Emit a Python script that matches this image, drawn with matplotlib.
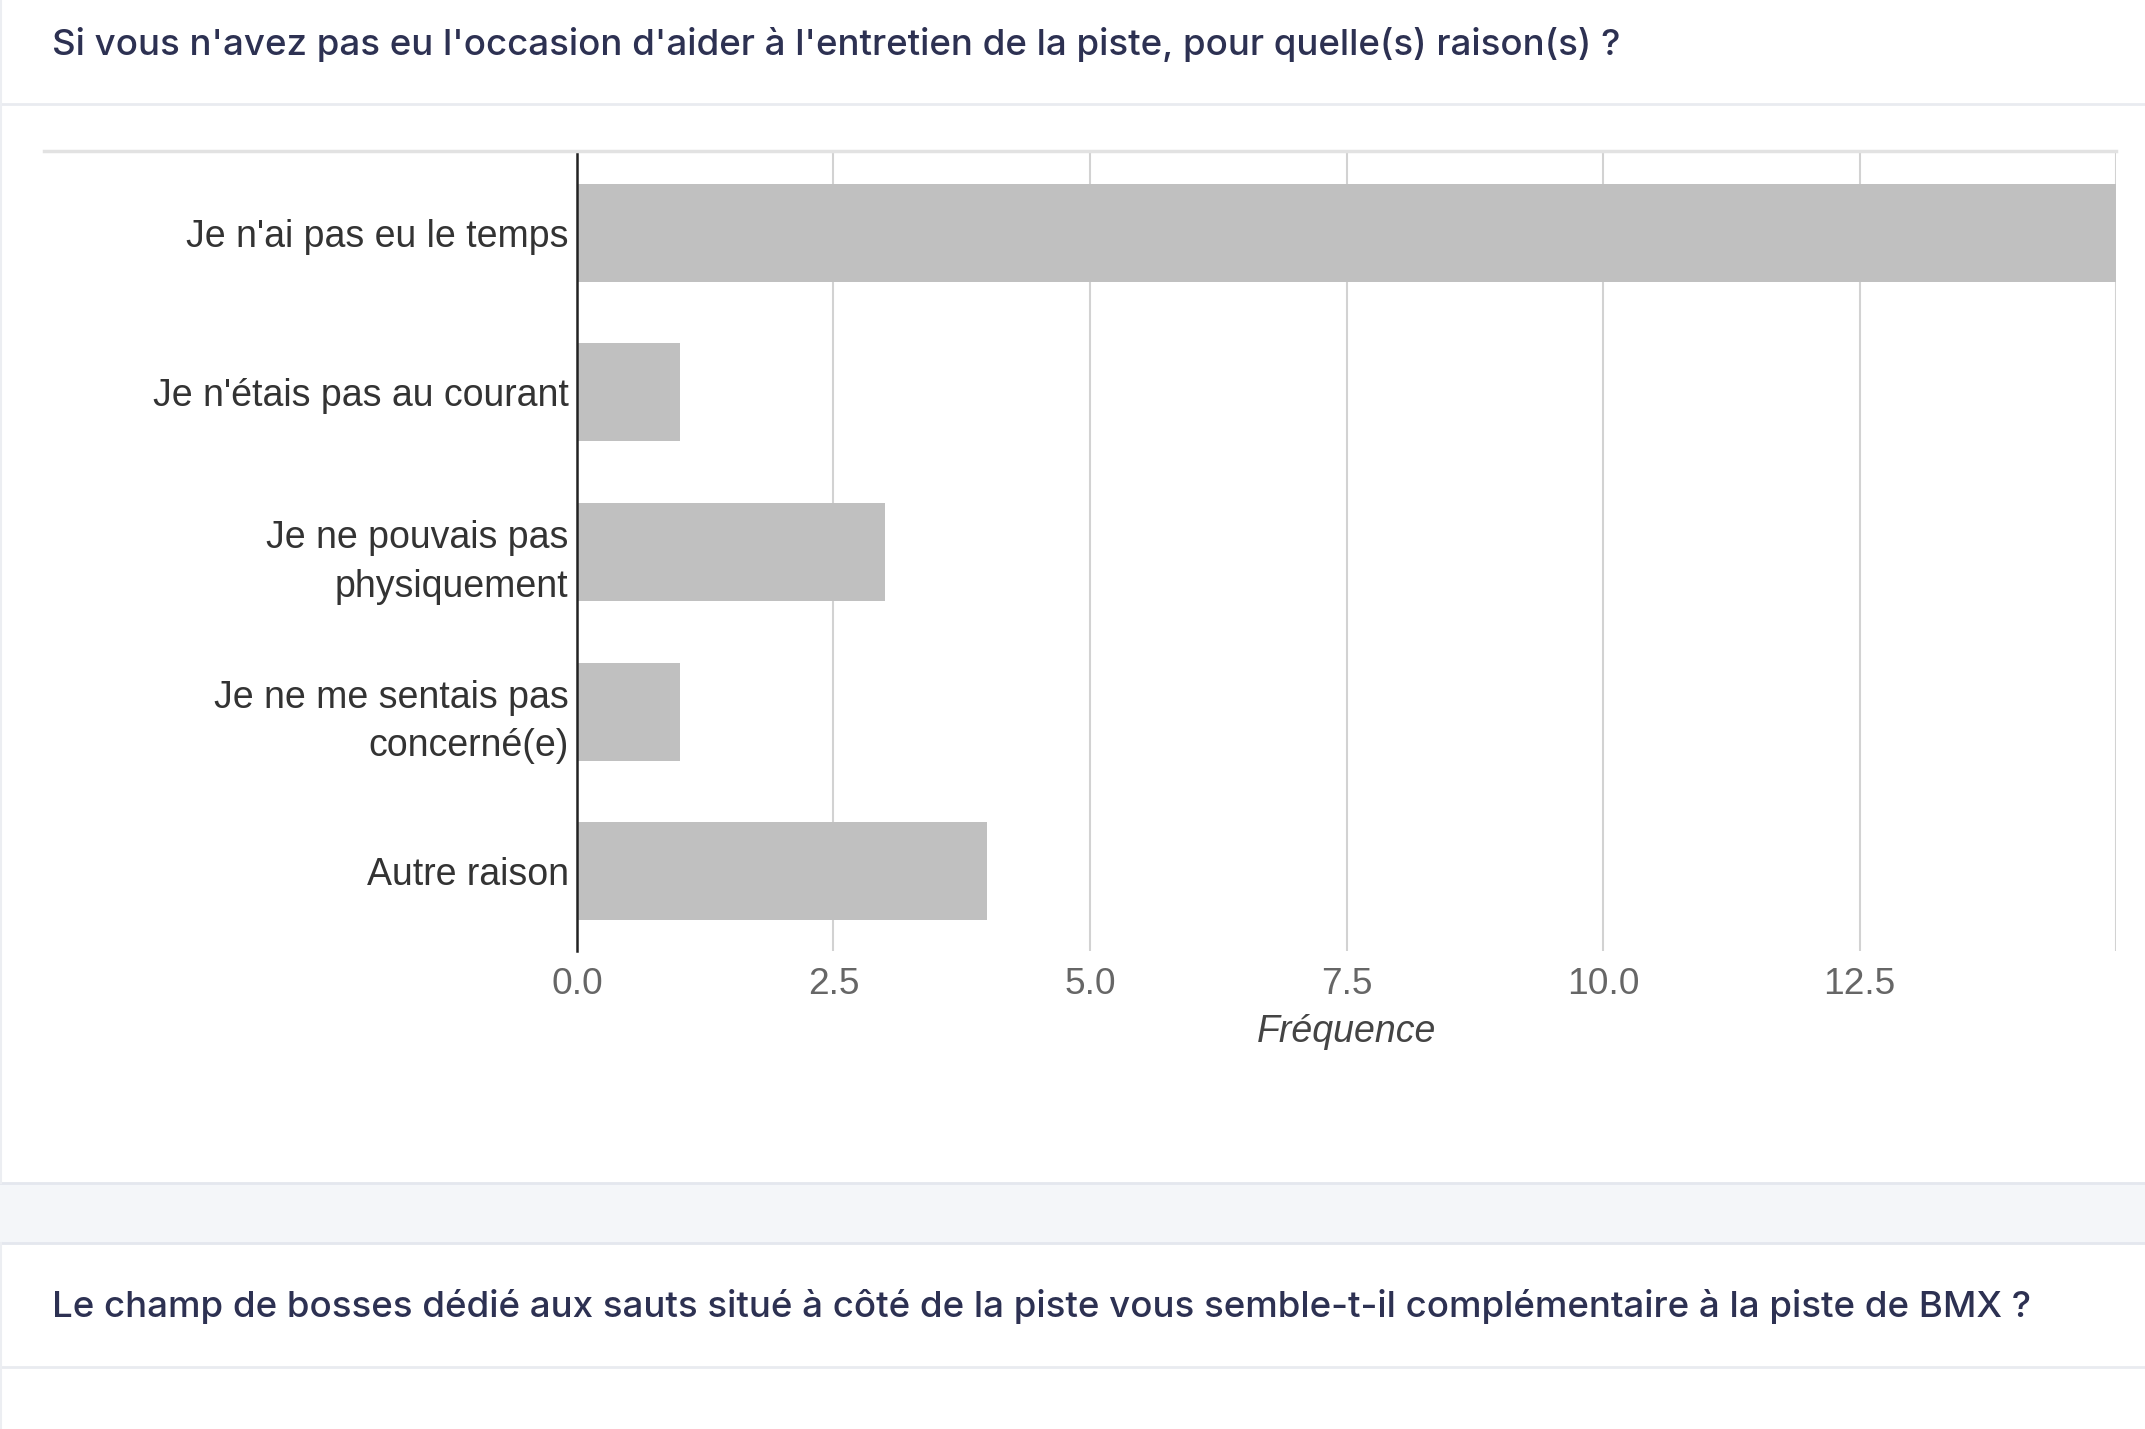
import matplotlib
matplotlib.use("Agg")
import matplotlib.pyplot as plt
from matplotlib.lines import Line2D
from matplotlib.patches import Rectangle

categories = [
    "Je n'ai pas eu le temps",
    "Je n'étais pas au courant",
    "Je ne pouvais pas\nphysiquement",
    "Je ne me sentais pas\nconcerné(e)",
    "Autre raison",
]
values = [15, 1, 3, 1, 4]
xticks = [0.0, 2.5, 5.0, 7.5, 10.0, 12.5]
xtick_labels = ["0.0", "2.5", "5.0", "7.5", "10.0", "12.5"]
title_1 = "Si vous n'avez pas eu l'occasion d'aider à l'entretien de la piste, pour quelle(s) raison(s) ?"
title_2 = "Le champ de bosses dédié aux sauts situé à côté de la piste vous semble-t-il complémentaire à la piste de BMX ?"
xlabel = "Fréquence"

W, H = 2145, 1429
fig = plt.figure(figsize=(W / 100, H / 100), dpi=100)
fig.patch.set_facecolor("white")

def fx(px):
    return px / W

def fy(py):
    return 1 - py / H

# page background pieces
fig.add_artist(Rectangle((0, fy(1243)), 1, (1243 - 1183) / H, transform=fig.transFigure,
                         facecolor="#f4f6f9", edgecolor="none", zorder=0))
for yy, c in [(104, "#e9ebf0"), (1183, "#e4e7ee"), (1243, "#e4e7ee"), (1367, "#e9ebf0")]:
    fig.add_artist(Line2D([0, 1], [fy(yy), fy(yy)], transform=fig.transFigure,
                          color=c, lw=2, zorder=1))
fig.add_artist(Line2D([fx(1), fx(1)], [fy(0), fy(1183)], transform=fig.transFigure,
                      color="#eceef2", lw=1.5, zorder=1))
fig.add_artist(Line2D([fx(1), fx(1)], [fy(1243), fy(1429)], transform=fig.transFigure,
                      color="#eceef2", lw=1.5, zorder=1))

title_kw = dict(family=["Inter", "DejaVu Sans"], fontsize=26.4, fontweight="medium",
                color="#2d3152", ha="left", va="center")
fig.text(fx(52), fy(45), title_1, **title_kw)
fig.text(fx(52), fy(1307), title_2, **title_kw)

# top plot border line
fig.add_artist(Line2D([fx(44), fx(2116)], [fy(151), fy(151)], transform=fig.transFigure,
                      color="#e2e2e2", lw=2.5, zorder=1))

lab_font = ["Liberation Sans", "DejaVu Sans"]
ax = fig.add_axes([fx(577), fy(951), fx(2116) - fx(577), (951 - 153) / H])
ax.set_facecolor("white")
ypos = list(range(len(categories)))
ax.barh(ypos, values, height=0.615, color="#c0c0c0", zorder=2)
ax.set_xlim(0, 15)
ax.set_ylim(len(categories) - 0.5, -0.5)
ax.set_yticks(ypos)
ax.set_yticklabels(categories, family=lab_font, fontsize=27,
                   color="#333333", linespacing=1.45)
ax.set_xticks(xticks)
ax.set_xticklabels(xtick_labels, family=lab_font, fontsize=26.7, color="#666666")
ax.tick_params(axis="both", length=0)
ax.tick_params(axis="y", pad=6)
ax.tick_params(axis="x", pad=11.5)
ax.set_xlabel(xlabel, family=lab_font, fontsize=27,
              style="italic", color="#444444", labelpad=9)
for x in xticks[1:] + [15]:
    ax.axvline(x, color="#d2d2d2", lw=1.5, zorder=1)
for s in ["top", "right", "bottom"]:
    ax.spines[s].set_visible(False)
ax.spines["left"].set_color("#222222")
ax.spines["left"].set_linewidth(1.8)
ax.spines["left"].set_zorder(3)

fig.savefig("out.png", dpi=100, facecolor="white")
